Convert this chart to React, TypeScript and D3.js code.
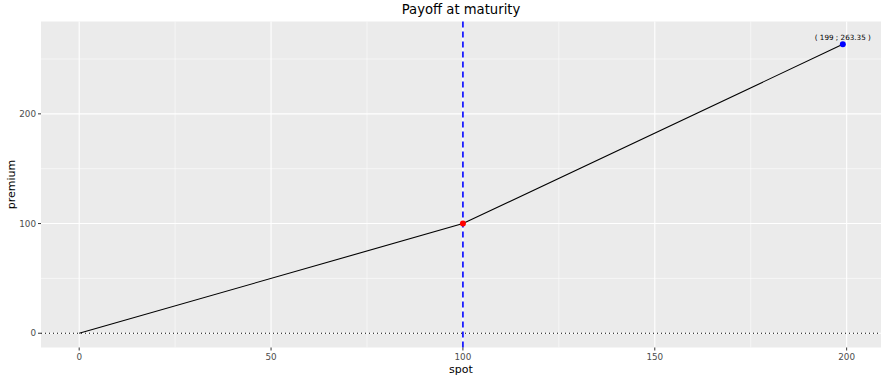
import React from "react";
import * as d3 from "d3";

const spots = [0, 100, 199];
const premiums = [0, 100, 263.35];
const xTicks = [0, 50, 100, 150, 200];
const xMinor = [25, 75, 125, 175];
const yTicks = [0, 100, 200];
const yMinor = [50, 150, 250];
const strike = 100;
const strikePremium = 100;
const endSpot = 199;
const endPremium = 263.35;
const labelY = 270;
const titleText = "Payoff at maturity";
const xLabel = "spot";
const yLabel = "premium";

const W = 886, H = 379;
const L = 41, R = 881, T = 21.5, B = 347.5;

export default function App() {
  const x = d3.scaleLinear().domain([-9.95, 208.95]).range([L, R]);
  const y = d3.scaleLinear().domain([-13, 284.2]).range([B, T]);
  const pts = spots.map((s, i) => [s, premiums[i]] as [number, number]);
  const line = d3.line<[number, number]>().x(d => x(d[0])).y(d => y(d[1]))(pts) || "";
  const font = "'DejaVu Sans', sans-serif";
  return (
    <svg width={W} height={H} style={{ position: "absolute", left: 0, top: 0 }} fontFamily={font}>
      <rect x={0} y={0} width={W} height={H} fill="white" />
      <rect x={L} y={T} width={R - L} height={B - T} fill="#ebebeb" />
      {xMinor.map(v => <line key={"xm" + v} x1={x(v)} x2={x(v)} y1={T} y2={B} stroke="white" strokeWidth={0.55} />)}
      {yMinor.map(v => <line key={"ym" + v} y1={y(v)} y2={y(v)} x1={L} x2={R} stroke="white" strokeWidth={0.55} />)}
      {xTicks.map(v => <line key={"x" + v} x1={x(v)} x2={x(v)} y1={T} y2={B} stroke="white" strokeWidth={1.1} />)}
      {yTicks.map(v => <line key={"y" + v} y1={y(v)} y2={y(v)} x1={L} x2={R} stroke="white" strokeWidth={1.1} />)}
      <line x1={L} x2={R} y1={y(0)} y2={y(0)} stroke="black" strokeWidth={1} strokeDasharray="1 3" />
      <path d={line} fill="none" stroke="black" strokeWidth={1.1} />
      <line x1={x(strike)} x2={x(strike)} y1={T} y2={B} stroke="blue" strokeWidth={1.6} strokeDasharray="6 4" />
      <circle cx={x(strike)} cy={y(strikePremium)} r={3} fill="red" />
      <circle cx={x(endSpot)} cy={y(endPremium)} r={3} fill="blue" />
      <text x={x(endSpot)} y={y(labelY)} fontSize={7.2} textAnchor="middle" dy="0.35em" fill="black">( 199 ; 263.35 )</text>
      {xTicks.map(v => (
        <g key={"xt" + v}>
          <line x1={x(v)} x2={x(v)} y1={B} y2={B + 3} stroke="#333" strokeWidth={1} />
          <text x={x(v)} y={B + 12} fontSize={8.8} fill="#4d4d4d" textAnchor="middle">{v}</text>
        </g>
      ))}
      {yTicks.map(v => (
        <g key={"yt" + v}>
          <line x1={L - 3} x2={L} y1={y(v)} y2={y(v)} stroke="#333" strokeWidth={1} />
          <text x={L - 5} y={y(v)} dy="0.35em" fontSize={8.8} fill="#4d4d4d" textAnchor="end">{v}</text>
        </g>
      ))}
      <text x={(L + R) / 2} y={369} fontSize={11} textAnchor="middle" fill="black" dy="0.35em">{xLabel}</text>
      <text transform={`translate(11,${(T + B) / 2}) rotate(-90)`} fontSize={11} textAnchor="middle" fill="black" dy="0.35em">{yLabel}</text>
      <text x={(L + R) / 2} y={9} fontSize={13.2} textAnchor="middle" fill="black" dy="0.35em">{titleText}</text>
    </svg>
  );
}
